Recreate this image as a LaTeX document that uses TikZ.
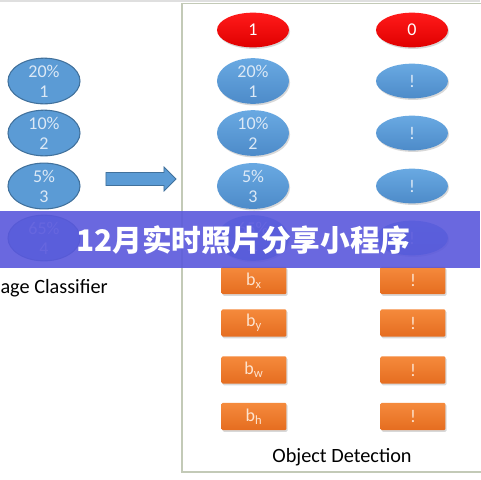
\documentclass[tikz,border=0pt]{standalone}
\usepackage{fontspec}
\setmainfont{Carlito}
\newfontfamily\cjk{Noto Sans CJK SC}
\usepackage{xcolor}
\usetikzlibrary{shapes.geometric,shadows}

\definecolor{clsblue}{HTML}{5B9BD5}
\definecolor{clsedge}{HTML}{41719C}
\definecolor{clstext}{HTML}{DCE9F6}
\definecolor{dettop}{HTML}{69A9E2}
\definecolor{detbot}{HTML}{4D8BC9}
\definecolor{redtop}{HTML}{FF1A1A}
\definecolor{redbot}{HTML}{E00000}
\definecolor{orgtop}{HTML}{F58A3C}
\definecolor{orgbot}{HTML}{E56D20}
\definecolor{orgtext}{HTML}{FDE3CE}
\definecolor{panel}{HTML}{C3CAB7}
\definecolor{banner}{HTML}{5A58DC}

\begin{document}
\begin{tikzpicture}[x=0.75pt,y=-0.75pt,
    txt/.style={font=\fontsize{13.5}{15}\selectfont,align=center,inner sep=0pt},
    cls/.style={txt,ellipse,draw=clsedge,line width=0.8pt,fill=clsblue,text=clstext,minimum width=54pt,minimum height=27pt},
    det/.style={txt,ellipse,top color=dettop,bottom color=detbot,text=clstext,minimum width=54pt,minimum height=26pt,
        drop shadow={opacity=0.3,shadow xshift=0.8pt,shadow yshift=-1.2pt}},
    hot/.style={det,top color=redtop,bottom color=redbot,text=white},
    coord/.style={txt,rectangle,rounded corners=1pt,top color=orgtop,bottom color=orgbot,text=orgtext,minimum width=48.75pt,minimum height=20.5pt,
        drop shadow={opacity=0.3,shadow xshift=0.8pt,shadow yshift=-1.2pt}},
    caption/.style={font=\fontsize{15.2}{17}\selectfont,inner sep=0pt}]
    \useasboundingbox (0,0) rectangle (480,480);
    \fill[white] (0,0) rectangle (480,480);
    \fill[gray!25] (0,0) rectangle (480,1.5);

    % image classifier
    \node[cls] (c1) at (44,81) {20\%\\1};
    \node[cls] (c2) at (44,133) {10\%\\2};
    \node[cls] (c3) at (44,186) {5\%\\3};
    \node[cls] (c4) at (44,238) {65\%\\4};
    \node[caption] (cname) at (43.5,288) {Image Classifier};

    % block arrow
    \draw[clsedge,fill=clsblue,line width=0.6pt] (106,172.5) -- (164,172.5) -- (164,167) -- (176,179)
        -- (164,191) -- (164,185.5) -- (106,185.5) -- cycle;

    % object detection
    \draw[panel,line width=0.9pt] (182,3.5) rectangle (490,472);
    \node[hot] (p0) at (253,30) {1};
    \node[hot] (q0) at (412,30) {0};
    \node[det] (p1) at (253,81) {20\%\\1};
    \node[det] (q1) at (412,81) {!};
    \node[det] (p2) at (253,133) {10\%\\2};
    \node[det] (q2) at (412,133) {!};
    \node[det] (p3) at (253,186) {5\%\\3};
    \node[det] (q3) at (412,186) {!};
    \node[det] (p4) at (253,238) {65\%\\4};
    \node[det] (q4) at (412,238) {!};
    \node[coord] (bx) at (254,280.5) {b$_\mathrm{x}$};
    \node[coord] (rx) at (413,280.5) {!};
    \node[coord] (by) at (254,323) {b$_\mathrm{y}$};
    \node[coord] (ry) at (413,323) {!};
    \node[coord] (bw) at (254,370) {b$_\mathrm{w}$};
    \node[coord] (rw) at (413,370) {!};
    \node[coord] (bh) at (254,416.5) {b$_\mathrm{h}$};
    \node[coord] (rh) at (413,416.5) {!};
    \node[caption] (dname) at (342,457) {Object Detection};

    % title band
    \fill[banner,opacity=0.9] (0,211) rectangle (480,268);
    \node[font=\cjk\bfseries\fontsize{22.3}{23}\selectfont,text=white,inner sep=0pt] (title) at (243,240) {12月实时照片分享小程序};
\end{tikzpicture}
\end{document}
